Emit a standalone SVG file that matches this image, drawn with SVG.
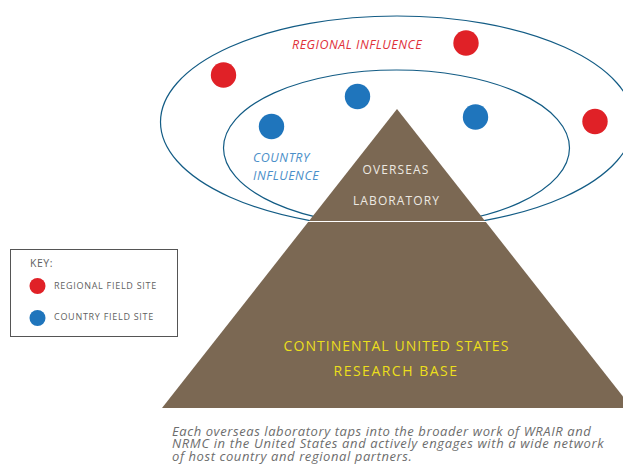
<svg xmlns="http://www.w3.org/2000/svg" width="623" height="464" viewBox="0 0 623 464">
<style>
text{font-family:"Open Sans","DejaVu Sans",sans-serif}
.ring{fill:none;stroke:#135c85;stroke-width:1.2}
.red{fill:#e02127}
.blue{fill:#1f75bc}
.lab{fill:#ede9e2;font-size:12px;letter-spacing:1.1px;text-anchor:middle}
.yel{fill:#ecdf1c;font-size:14px;letter-spacing:1.05px;text-anchor:middle}
.key{fill:#5f5f5f;font-size:9px;letter-spacing:.72px}
.inf{font-size:12.5px;font-style:italic;letter-spacing:.5px}
.cap{fill:#6d6d6d;font-size:13px;font-style:italic;letter-spacing:.58px}
</style>
<rect width="623" height="464" fill="#fff"/>
<g id="connectors">
<ellipse class="ring" cx="397" cy="122" rx="236.5" ry="106"/>
<ellipse class="ring" cx="396.5" cy="148" rx="173" ry="78"/>
</g>
<g id="pyramid">
<polygon points="397,109 162,408 632,408" fill="#7b6853"/>
<line x1="304" y1="221.500" x2="490" y2="221.500" stroke="#fff" stroke-width="1.2"/>
</g>
<g id="overseas-laboratory">
<text class="lab" x="396" y="174">OVERSEAS</text>
<text class="lab" x="396.500" y="205">LABORATORY</text>
</g>
<g id="research-base">
<text class="yel" x="396.500" y="351">CONTINENTAL UNITED STATES</text>
<text class="yel" x="396" y="376" style="letter-spacing:1.5px">RESEARCH BASE</text>
</g>
<g id="regional-influence"><text class="inf" x="292" y="49" fill="#e0313a">REGIONAL INFLUENCE</text></g>
<g id="country-influence">
<text class="inf" x="253" y="162" fill="#4b8fc9">COUNTRY</text>
<text class="inf" x="253" y="180" fill="#4b8fc9">INFLUENCE</text>
</g>
<g id="regional-site-1"><circle class="red" cx="223.500" cy="75" r="12.700"/></g>
<g id="regional-site-2"><circle class="red" cx="466" cy="43" r="12.700"/></g>
<g id="regional-site-3"><circle class="red" cx="595" cy="121.500" r="12.700"/></g>
<g id="country-site-1"><circle class="blue" cx="271.500" cy="126.500" r="12.700"/></g>
<g id="country-site-2"><circle class="blue" cx="357.500" cy="96.500" r="12.700"/></g>
<g id="country-site-3"><circle class="blue" cx="475.500" cy="117" r="12.700"/></g>
<g id="key">
<rect x="10.500" y="249.500" width="167" height="87" fill="#fff" stroke="#555" stroke-width="1"/>
<text class="key" x="30" y="267" style="font-size:10.500px;letter-spacing:.5px">KEY:</text>
<circle class="red" cx="37.500" cy="286" r="8"/>
<text class="key" x="54" y="289">REGIONAL FIELD SITE</text>
<circle class="blue" cx="37.500" cy="318" r="8"/>
<text class="key" x="54" y="320">COUNTRY FIELD SITE</text>
</g>
<g id="caption">
<text class="cap" x="172" y="435.500">Each overseas laboratory taps into the broader work of WRAIR and</text>
<text class="cap" x="172" y="448" style="letter-spacing:.64px">NRMC in the United States and actively engages with a wide network</text>
<text class="cap" x="172" y="460.500">of host country and regional partners.</text>
</g>
</svg>
